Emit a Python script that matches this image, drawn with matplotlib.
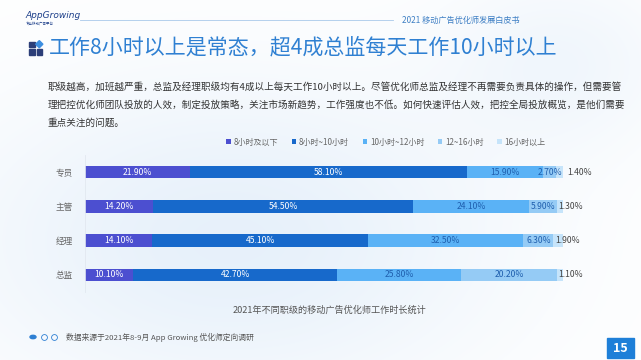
import numpy as np
import matplotlib
matplotlib.use("Agg")
import matplotlib.pyplot as plt
from matplotlib.patches import Rectangle, Polygon, Circle

plt.rcParams['font.family'] = ['Noto Sans CJK SC', 'DejaVu Sans']

# ---------------- data ----------------
categories = ['专员', '主管', '经理', '总监']
series_names = ['8小时及以下', '8小时~10小时', '10小时~12小时', '12~16小时', '16小时以上']
s_le8 = [21.9, 14.2, 14.1, 10.1]
s_8_10 = [58.1, 54.5, 45.1, 42.7]
s_10_12 = [15.9, 24.1, 32.5, 25.8]
s_12_16 = [2.7, 5.9, 6.3, 20.2]
s_16up = [1.4, 1.3, 1.9, 1.1]
series_values = [s_le8, s_8_10, s_10_12, s_12_16, s_16up]

colors = ['#4C4FD0', '#1769CB', '#5AB2F6', '#95CBF5', '#C6E4FA']
label_colors = ['white', 'white', '#1F5FAE', '#1F5FAE', '#444444']

title = '工作8小时以上是常态，超4成总监每天工作10小时以上'
paragraph = ['职级越高，加班越严重，总监及经理职级均有4成以上每天工作10小时以上。尽管优化师总监及经理不再需要负责具体的操作，但需要管',
             '理把控优化师团队投放的人效，制定投放策略，关注市场新趋势，工作强度也不低。如何快速评估人效，把控全局投放概览，是他们需要',
             '重点关注的问题。']
caption = '2021年不同职级的移动广告优化师工作时长统计'
source = '数据来源于2021年8-9月 App Growing 优化师定向调研'
header_right = '2021 移动广告优化师发展白皮书'
page_no = '15'

W, H = 641, 360
fig = plt.figure(figsize=(W / 100, H / 100), dpi=100)

def fx(x):
    return x / W

def fy(y):
    return 1 - y / H

# ---------------- background ----------------
bg = fig.add_axes([0, 0, 1, 1], zorder=-10)
yy, xx = np.mgrid[0:H, 0:W]
d1 = np.exp(-(((xx - 230) / 270.0) ** 2 + ((yy - 240) / 160.0) ** 2))
d2 = np.exp(-(((xx - 560) / 120.0) ** 2 + ((yy - 60) / 90.0) ** 2))
t = np.clip(0.65 * d1 + 0.35 * d2, 0, 1)
base = np.array([1.0, 1.0, 1.0])
tint = np.array([0xDA, 0xE9, 0xF8]) / 255.0
img = base[None, None, :] * (1 - t[..., None]) + tint[None, None, :] * t[..., None]
bg.imshow(img, aspect='auto', extent=[0, 1, 0, 1])
bg.set_axis_off()

# ---------------- header ----------------
fig.text(fx(25), fy(15), 'AppGrowing', fontsize=6.5, color='#1D3F8A', style='italic',
         va='center', ha='left', family=['DejaVu Sans'])
fig.text(fx(26), fy(24), '专业移动广告平台', fontsize=2.5, color='#1D3F8A', va='center', ha='left')
fig.add_artist(plt.Line2D([fx(80), fx(393)], [fy(20), fy(20)], color='#A9C9EA', lw=0.6))
fig.text(fx(402), fy(20), header_right, fontsize=5.9, color='#3E7FC4', va='center', ha='left')

# title icon
def sq(x, y, s, c):
    fig.add_artist(Rectangle((fx(x), fy(y + s)), s / W, s / H, color=c, transform=fig.transFigure))
sq(29, 41.5, 5.5, '#2C3E78')
sq(29, 49, 5.5, '#2C3E78')
sq(36.5, 49, 5.5, '#2C3E78')
cx, cy, r = 39.3, 44.2, 3.6
fig.add_artist(Polygon([(fx(cx), fy(cy - r)), (fx(cx + r), fy(cy)), (fx(cx), fy(cy + r)), (fx(cx - r), fy(cy))],
                       closed=True, color='#3C8EE0', transform=fig.transFigure))

fig.text(fx(49), fy(47.5), title, fontsize=15.1, color='#2F80D2', va='center', ha='left')

for i, line in enumerate(paragraph):
    fig.text(fx(48), fy(87 + i * 18), line, fontsize=6.9, color='#333333', va='center', ha='left')

# ---------------- chart ----------------
ax = fig.add_axes([fx(85), fy(292), (563 - 85) / W, (292 - 155) / H])
ax.set_facecolor('none')
y = np.arange(len(categories))
left = np.zeros(len(categories))
bars = []
for k, vals in enumerate(series_values):
    v = np.array(vals)
    b = ax.barh(y, v, left=left, height=0.36, color=colors[k], label=series_names[k], zorder=2)
    bars.append(b)
    for i in range(len(categories)):
        if k < len(series_values) - 1:
            ax.text(left[i] + v[i] / 2, y[i], f'{v[i]:.2f}%', ha='center', va='center',
                    fontsize=6.2, color=label_colors[k], zorder=3)
        else:
            prev_small = series_values[k - 1][i] < 4
            xpos = left[i] + (2.2 if prev_small else 0.3)
            ax.text(xpos, y[i], f'{v[i]:.2f}%', ha='left', va='center',
                    fontsize=6.2, color=label_colors[k], zorder=3)
    left = left + v

ax.set_xlim(0, 100)
ax.set_ylim(3.5, -0.5)
ax.set_yticks(y)
ax.set_yticklabels(categories, fontsize=6.2, color='#666666')
ax.tick_params(axis='y', length=0, pad=9)
ax.set_xticks([])
for s in ['top', 'right', 'bottom']:
    ax.spines[s].set_visible(False)
ax.spines['left'].set_color('#E2E8F0')
ax.spines['left'].set_linewidth(0.6)

leg = fig.legend(handles=bars, labels=series_names, ncol=5, loc='center',
                 bbox_to_anchor=(fx(386), fy(142)), frameon=False, fontsize=5.8,
                 handlelength=0.55, handleheight=0.55, handletextpad=0.35, columnspacing=1.7,
                 labelcolor='#666666')

fig.text(fx(329), fy(310), caption, fontsize=6.6, color='#555555', va='center', ha='center')

# footer
for i, xc in enumerate([33, 44, 54]):
    if i == 0:
        fig.add_artist(Circle((fx(xc), fy(337)), 3.0 / W, color='#2D7FD3', transform=fig.transFigure))
    else:
        fig.add_artist(plt.Line2D([fx(xc)], [fy(337)], marker='o', markersize=4.2,
                                  markerfacecolor='none', markeredgecolor='#2D7FD3', markeredgewidth=0.6))
fig.text(fx(66), fy(337), source, fontsize=5.6, color='#555555', va='center', ha='left')

fig.add_artist(Rectangle((fx(607), fy(358)), 27 / W, 20 / H, color='#1E7FD8', transform=fig.transFigure))
fig.text(fx(620.5), fy(348), page_no, fontsize=9, color='white', weight='bold', va='center', ha='center')

fig.savefig('out.png', dpi=100)
